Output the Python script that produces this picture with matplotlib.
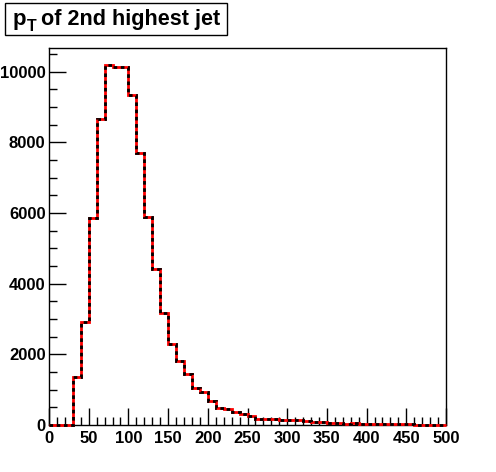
import matplotlib
matplotlib.use("Agg")
import matplotlib.pyplot as plt
from matplotlib.ticker import MultipleLocator
from matplotlib.patches import Rectangle

plt.rcParams['font.family'] = ['Liberation Sans', 'DejaVu Sans']
plt.rcParams['font.weight'] = 'bold'

# Histogram: pT of 2nd highest jet, 10 GeV bins from 0 to 500
bin_edges = list(range(0, 510, 10))
counts = [0, 0, 0, 1350, 2910, 5850, 8650, 10190, 10140, 10130,
          9350, 7700, 5890, 4420, 3180, 2300, 1820, 1440, 1060, 925,
          690, 490, 465, 360, 325, 264, 180, 175, 165, 150,
          140, 128, 110, 92, 78, 62, 55, 42, 50, 36,
          30, 26, 22, 20, 18, 16, 14, 12, 10, 9]
title_main = 'p'
title_sub = 'T'
title_rest = 'of 2nd highest jet'
x_ticks = [0, 50, 100, 150, 200, 250, 300, 350, 400, 450, 500]
y_ticks = [0, 2000, 4000, 6000, 8000, 10000]

W, H = 496, 472
fig = plt.figure(figsize=(W / 100, H / 100), dpi=100)
ax = fig.add_axes([49 / W, 1 - 425 / H, (446 - 49) / W, (425 - 48) / H])

ax.stairs(counts, bin_edges, baseline=None, color='#ff0000', linewidth=2.0,
          clip_on=False, zorder=3)
ax.stairs(counts, bin_edges, baseline=None, color='black', linewidth=2.0,
          linestyle=(0, (1.3, 1.3)), clip_on=False, zorder=4)

ax.set_xlim(0, 500)
ax.set_ylim(0, 10670)
ax.set_xticks(x_ticks)
ax.set_yticks(y_ticks)
ax.xaxis.set_minor_locator(MultipleLocator(10))
ax.yaxis.set_minor_locator(MultipleLocator(500))
ax.tick_params(axis='both', which='both', direction='in', top=False, right=False,
               width=1, color='black', labelsize=12)
ax.tick_params(axis='both', which='major', length=12)
ax.tick_params(axis='both', which='minor', length=6)
ax.tick_params(axis='x', pad=4)
ax.tick_params(axis='y', pad=2.5)
for lbl in ax.get_xticklabels() + ax.get_yticklabels():
    lbl.set_fontweight('bold')
for s in ax.spines.values():
    s.set_linewidth(1)
    s.set_color('black')

# Title box (ROOT-style pave)
fig.patches.append(Rectangle((5 / W, 1 - 35 / H), 222 / W, 32 / H,
                             transform=fig.transFigure, facecolor='white',
                             edgecolor='black', linewidth=1, zorder=5))
fig.text(13 / W, 1 - 25 / H, title_main, fontsize=16, fontweight='bold',
         ha='left', va='baseline', zorder=6)
fig.text(27 / W, 1 - 31 / H, title_sub, fontsize=11.5, fontweight='bold',
         ha='left', va='baseline', zorder=6)
fig.text(41 / W, 1 - 25 / H, title_rest, fontsize=15.6, fontweight='bold',
         ha='left', va='baseline', zorder=6)

fig.savefig('out.png', dpi=100)
